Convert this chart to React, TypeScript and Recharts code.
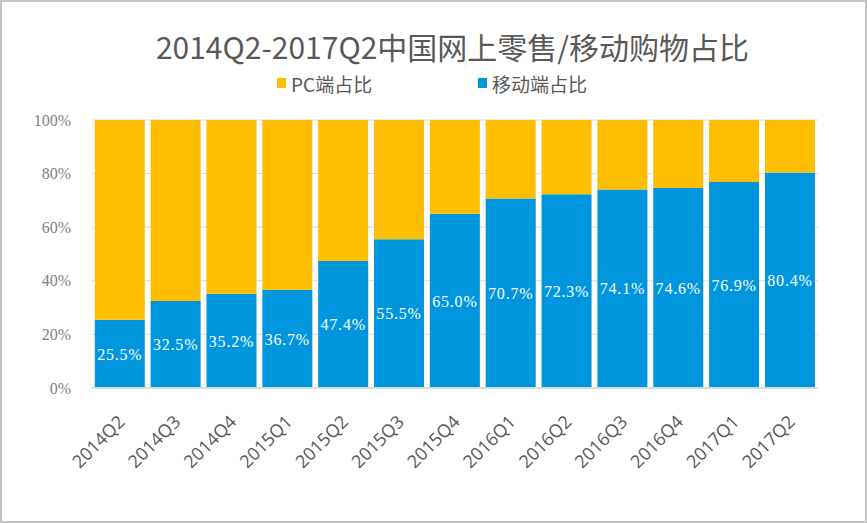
import React from 'react';
import { BarChart, Bar, XAxis, YAxis, CartesianGrid, LabelList } from 'recharts';

const categories = ['2014Q2', '2014Q3', '2014Q4', '2015Q1', '2015Q2', '2015Q3', '2015Q4', '2016Q1', '2016Q2', '2016Q3', '2016Q4', '2017Q1', '2017Q2'];
const mobileShare = [25.5, 32.5, 35.2, 36.7, 47.4, 55.5, 65.0, 70.7, 72.3, 74.1, 74.6, 76.9, 80.4];
const pcShare = [74.5, 67.5, 64.8, 63.3, 52.6, 44.5, 35.0, 29.3, 27.7, 25.9, 25.4, 23.1, 19.6];
const yTicks = [0, 20, 40, 60, 80, 100];

const title = '2014Q2-2017Q2中国网上零售/移动购物占比';
const pcName = 'PC端占比';
const mobileName = '移动端占比';

const PC_COLOR = '#FFBE00';
const MOBILE_COLOR = '#0096DE';

const data = categories.map((c, i) => ({ name: c, mobile: mobileShare[i], pc: pcShare[i] }));

const legendItems = [
  { label: pcName, color: PC_COLOR, left: 277 },
  { label: mobileName, color: MOBILE_COLOR, left: 478 },
];

export default function App() {
  return (
    <div
      style={{
        position: 'absolute',
        left: 0,
        top: 0,
        width: 867,
        height: 523,
        background: '#fff',
        boxSizing: 'border-box',
        border: '2px solid #c4c4c4',
        overflow: 'hidden',
      }}
    >
      <div
        style={{
          position: 'absolute',
          left: -2,
          top: 22,
          width: 867,
          textAlign: 'center',
          paddingLeft: 38,
          boxSizing: 'border-box',
          fontFamily: '"Noto Sans CJK SC", sans-serif',
          fontSize: 30,
          lineHeight: '44px',
          color: '#595959',
          whiteSpace: 'nowrap',
        }}
      >
        {title}
      </div>
      {legendItems.map((it) => (
        <div
          key={it.label}
          style={{
            position: 'absolute',
            left: it.left - 2,
            top: 68,
            height: 26,
            display: 'flex',
            alignItems: 'center',
            fontFamily: '"Noto Sans CJK SC", sans-serif',
            fontSize: 19,
            color: '#595959',
            whiteSpace: 'nowrap',
          }}
        >
          <span style={{ display: 'inline-block', width: 9, height: 10, background: it.color, marginRight: 5 }} />
          {it.label}
        </div>
      ))}
      <div style={{ position: 'absolute', left: -2, top: -2 }}>
        <BarChart
          width={867}
          height={523}
          data={data}
          margin={{ top: 120, right: 49, bottom: 0, left: 0 }}
          barCategoryGap="5%"
        >
          <CartesianGrid vertical={false} stroke="#d9d9d9" strokeWidth={1} />
          <XAxis
            dataKey="name"
            height={135}
            interval={0}
            axisLine={{ stroke: '#d9d9d9', strokeWidth: 2 }}
            tickLine={false}
            tickMargin={20}
            angle={-45}
            textAnchor="end"
            tick={{ fill: '#595959', fontSize: 18, fontFamily: '"Open Sans", sans-serif', dx: -3 }}
          />
          <YAxis
            width={92}
            domain={[0, 100]}
            ticks={yTicks}
            tickFormatter={(v: number) => `${v}%`}
            axisLine={false}
            tickLine={false}
            tickMargin={15}
            tick={{ fill: '#7f7f7f', fontSize: 16, fontFamily: '"Liberation Serif", serif' }}
          />
          <Bar dataKey="mobile" name={mobileName} stackId="s" fill={MOBILE_COLOR} isAnimationActive={false}>
            <LabelList
              dataKey="mobile"
              position="center"
              formatter={(v: number) => `${v.toFixed(1)}%`}
              fill="#ffffff"
              style={{ fontSize: 16, fontFamily: '"Liberation Serif", serif', letterSpacing: 0.8 }}
            />
          </Bar>
          <Bar dataKey="pc" name={pcName} stackId="s" fill={PC_COLOR} isAnimationActive={false} />
        </BarChart>
      </div>
    </div>
  );
}
